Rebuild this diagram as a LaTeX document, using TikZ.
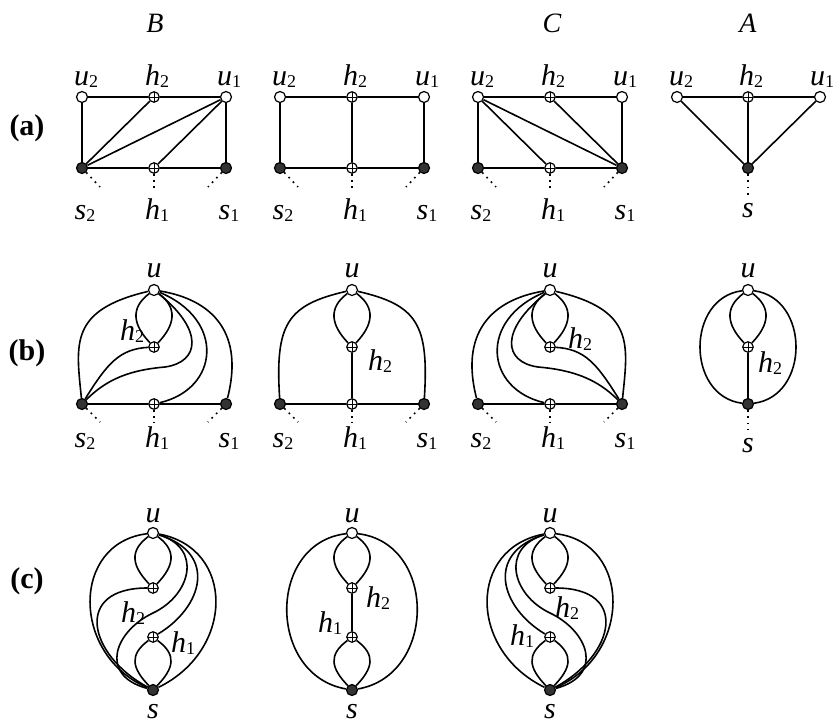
\documentclass[tikz,border=0pt]{standalone}
\usepackage{fontspec}
\setmainfont{Liberation Serif}
\newcommand{\vlab}[2]{\textit{#1}\raisebox{-2pt}{\fontsize{18}{18}\selectfont #2}}

\begin{document}
\begin{tikzpicture}[x=1pt,y=-1pt,
  wire/.style={line width=1.6pt},
  dotlink/.style={line width=1.7pt,dash pattern=on 1.7pt off 4.6pt},
  uvert/.style={circle,draw,line width=1.2pt,fill=white,minimum size=11pt,inner sep=0pt},
  hvert/.style={uvert,minimum size=10.5pt,path picture={
      \draw[line width=0.9pt] (path picture bounding box.north) -- (path picture bounding box.south)
        (path picture bounding box.west) -- (path picture bounding box.east);}},
  svert/.style={uvert,fill=black!80},
  lab/.style={font=\fontsize{30}{32}\selectfont,inner sep=0pt,anchor=base},
  colhead/.style={font=\fontsize{28}{30}\selectfont\itshape,inner sep=0pt,anchor=base}]
  \useasboundingbox (0,0) rectangle (835,723);

  % column and row heads
  \node[colhead] (headB) at (155,32) {B};
  \node[colhead] (headC) at (552,32) {C};
  \node[colhead] (headA) at (748,32) {A};
  \node[lab,font=\fontsize{30}{32}\selectfont\bfseries] (rowa) at (27,135) {(a)};
  \node[lab,font=\fontsize{30}{32}\selectfont\bfseries] (rowb) at (27,360) {(b)};
  \node[lab,font=\fontsize{30}{32}\selectfont\bfseries] (rowc) at (27,588) {(c)};

  % row (a): three rectangles
  \foreach \i/\x in {1/82,2/280,3/478} {
    \node[uvert] (a\i-u2) at (\x,97) {};
    \node[hvert] (a\i-h2) at (\x+72,97) {};
    \node[uvert] (a\i-u1) at (\x+144,97) {};
    \node[svert] (a\i-s2) at (\x,168) {};
    \node[hvert] (a\i-h1) at (\x+72,168) {};
    \node[svert] (a\i-s1) at (\x+144,168) {};
    \node[lab] (a\i-u2l) at (\x+4,85) {\vlab{u}{2}};
    \node[lab] (a\i-h2l) at (\x+75,85) {\vlab{h}{2}};
    \node[lab] (a\i-u1l) at (\x+147,85) {\vlab{u}{1}};
    \node[lab] (a\i-s2l) at (\x+3,219) {\vlab{s}{2}};
    \node[lab] (a\i-h1l) at (\x+75,219) {\vlab{h}{1}};
    \node[lab] (a\i-s1l) at (\x+147,219) {\vlab{s}{1}};
    \draw[wire] (a\i-u2) -- (a\i-h2) -- (a\i-u1) -- (a\i-s1) -- (a\i-h1) -- (a\i-s2) -- (a\i-u2);
    \draw[dotlink] (a\i-s2) -- +(18,19);
    \draw[dotlink] (a\i-h1) -- +(0,20);
    \draw[dotlink] (a\i-s1) -- +(-18,19);
  }
  \draw[wire] (a1-s2) -- (a1-h2);
  \draw[wire] (a1-s2) -- (a1-u1);
  \draw[wire] (a1-h1) -- (a1-u1);
  \draw[wire] (a2-h2) -- (a2-h1);
  \draw[wire] (a3-u2) -- (a3-h1);
  \draw[wire] (a3-u2) -- (a3-s1);
  \draw[wire] (a3-h2) -- (a3-s1);

  % row (a): triangle
  \node[uvert] (a4-u2) at (677,97) {};
  \node[hvert] (a4-h2) at (748,97) {};
  \node[uvert] (a4-u1) at (820,97) {};
  \node[svert] (a4-s) at (748,168) {};
  \node[lab] (a4-u2l) at (681,85) {\vlab{u}{2}};
  \node[lab] (a4-h2l) at (751,85) {\vlab{h}{2}};
  \node[lab] (a4-u1l) at (822,85) {\vlab{u}{1}};
  \node[lab] (a4-sl) at (748,217) {\textit{s}};
  \draw[wire] (a4-u2) -- (a4-h2) -- (a4-u1) -- (a4-s) -- (a4-u2);
  \draw[wire] (a4-h2) -- (a4-s);
  \draw[dotlink] (a4-s) -- +(0,27);

  % row (b)
  \foreach \i/\x in {1/82,2/280,3/478} {
    \node[uvert] (b\i-u) at (\x+72,290) {};
    \node[hvert] (b\i-h2) at (\x+72,347) {};
    \node[svert] (b\i-s2) at (\x,404) {};
    \node[hvert] (b\i-h1) at (\x+72,404) {};
    \node[svert] (b\i-s1) at (\x+144,404) {};
    \node[lab] (b\i-ul) at (\x+72,277) {\textit{u}};
    \node[lab] (b\i-s2l) at (\x+3,447) {\vlab{s}{2}};
    \node[lab] (b\i-h1l) at (\x+75,447) {\vlab{h}{1}};
    \node[lab] (b\i-s1l) at (\x+147,447) {\vlab{s}{1}};
    \draw[wire] (b\i-u) .. controls +(-24,18) and +(-21,-22) .. (b\i-h2);
    \draw[wire] (b\i-u) .. controls +(24,18) and +(21,-22) .. (b\i-h2);
    \draw[wire] (b\i-s2) -- (b\i-h1) -- (b\i-s1);
    \draw[dotlink] (b\i-s2) -- +(18,18);
    \draw[dotlink] (b\i-h1) -- +(0,19);
    \draw[dotlink] (b\i-s1) -- +(-18,18);
  }
  \node[lab] (b1-h2l) at (132,340) {\vlab{h}{2}};
  \draw[wire] (b1-u) .. controls +(-85,20) and +(-6,-60) .. (b1-s2);
  \draw[wire] (b1-u) .. controls +(60,10) and +(18,-70) .. (b1-s1);
  \draw[wire] (b1-h1) .. controls +(65,-15) and +(72,30) .. (b1-u);
  \draw[wire] (b1-s2) .. controls +(25,-25) and +(-35,3) .. (165,367)
    .. controls +(35,-5) and +(50,40) .. (b1-u);
  \draw[wire] (b1-s2) .. controls +(25,-40) and +(-35,2) .. (b1-h2);

  \node[lab] (b2-h2l) at (380,370) {\vlab{h}{2}};
  \draw[wire] (b2-h2) -- (b2-h1);
  \draw[wire] (b2-u) .. controls +(-65,15) and +(-5,-80) .. (b2-s2);
  \draw[wire] (b2-u) .. controls +(65,15) and +(5,-80) .. (b2-s1);

  \node[lab] (b3-h2l) at (580,348) {\vlab{h}{2}};
  \draw[wire] (b3-u) .. controls +(85,20) and +(6,-60) .. (b3-s1);
  \draw[wire] (b3-u) .. controls +(-60,10) and +(-18,-70) .. (b3-s2);
  \draw[wire] (b3-h1) .. controls +(-65,-15) and +(-72,30) .. (b3-u);
  \draw[wire] (b3-s1) .. controls +(-25,-25) and +(35,3) .. (538,367)
    .. controls +(-35,-5) and +(-50,40) .. (b3-u);
  \draw[wire] (b3-s1) .. controls +(-25,-40) and +(35,2) .. (b3-h2);

  \node[uvert] (b4-u) at (748,290) {};
  \node[hvert] (b4-h2) at (748,347) {};
  \node[svert] (b4-s) at (748,404) {};
  \node[lab] (b4-ul) at (748,277) {\textit{u}};
  \node[lab] (b4-h2l) at (770,372) {\vlab{h}{2}};
  \node[lab] (b4-sl) at (748,452) {\textit{s}};
  \draw[wire] (b4-u) .. controls +(-24,18) and +(-21,-22) .. (b4-h2);
  \draw[wire] (b4-u) .. controls +(24,18) and +(21,-22) .. (b4-h2);
  \draw[wire] (b4-h2) -- (b4-s);
  \draw[wire] (b4-u) .. controls +(-62,8) and +(-62,-8) .. (b4-s);
  \draw[wire] (b4-u) .. controls +(62,8) and +(62,-8) .. (b4-s);
  \draw[dotlink] (b4-s) -- +(0,26);

  % row (c)
  \foreach \i/\x in {1/153,2/352,3/550} {
    \node[uvert] (c\i-u) at (\x,533) {};
    \node[hvert] (c\i-h2) at (\x,588) {};
    \node[hvert] (c\i-h1) at (\x,637) {};
    \node[svert] (c\i-s) at (\x,690) {};
    \node[lab] (c\i-ul) at (\x,522) {\textit{u}};
    \node[lab] (c\i-sl) at (\x,718) {\textit{s}};
    \draw[wire] (c\i-u) .. controls +(-24,18) and +(-21,-22) .. (c\i-h2);
    \draw[wire] (c\i-u) .. controls +(24,18) and +(21,-22) .. (c\i-h2);
    \draw[wire] (c\i-h1) .. controls +(-24,18) and +(-21,-22) .. (c\i-s);
    \draw[wire] (c\i-h1) .. controls +(24,18) and +(21,-22) .. (c\i-s);
  }
  \node[lab] (c1-h2l) at (133,622) {\vlab{h}{2}};
  \node[lab] (c1-h1l) at (183,652) {\vlab{h}{1}};
  \draw[wire] (c1-u) .. controls +(-82,10) and +(-82,-35) .. (c1-s);
  \draw[wire] (c1-u) .. controls +(82,15) and +(82,-40) .. (c1-s);
  \draw[wire] (c1-h2) .. controls +(-80,0) and +(-65,-35) .. (c1-s);
  \draw[wire] (c1-u) .. controls +(50,15) and +(38,-18) .. (153,613)
    .. controls +(-38,18) and +(-55,-15) .. (c1-s);
  \draw[wire] (c1-u) .. controls +(65,20) and +(50,-30) .. (c1-h1);

  \node[lab] (c2-h2l) at (378,607) {\vlab{h}{2}};
  \node[lab] (c2-h1l) at (330,632) {\vlab{h}{1}};
  \draw[wire] (c2-h2) -- (c2-h1);
  \draw[wire] (c2-u) .. controls +(-85,10) and +(-85,-15) .. (c2-s);
  \draw[wire] (c2-u) .. controls +(85,10) and +(85,-15) .. (c2-s);

  \node[lab] (c3-h2l) at (567,617) {\vlab{h}{2}};
  \node[lab] (c3-h1l) at (522,645) {\vlab{h}{1}};
  \draw[wire] (c3-u) .. controls +(-82,15) and +(-82,-40) .. (c3-s);
  \draw[wire] (c3-u) .. controls +(82,10) and +(82,-35) .. (c3-s);
  \draw[wire] (c3-h2) .. controls +(80,0) and +(65,-35) .. (c3-s);
  \draw[wire] (c3-u) .. controls +(-50,15) and +(-38,-18) .. (550,613)
    .. controls +(38,18) and +(55,-15) .. (c3-s);
  \draw[wire] (c3-u) .. controls +(-65,20) and +(-50,-30) .. (c3-h1);
\end{tikzpicture}
\end{document}
